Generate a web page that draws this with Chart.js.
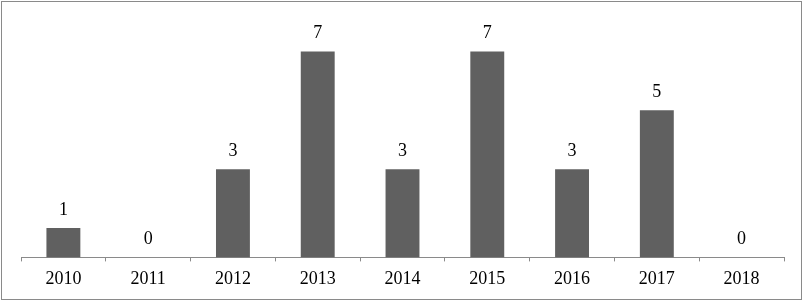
<!DOCTYPE html>
<html>
<head>
<meta charset="utf-8">
<script src="https://cdn.jsdelivr.net/npm/chart.js@4/dist/chart.umd.min.js"></script>
<style>
    body { margin: 0; background: #fff; }
    .frame { position: absolute; left: 1px; top: 1px; width: 799px; height: 297px; border: 1px solid #8a8a8a; }
    .wrap { position: absolute; left: 0; top: 0; width: 808px; height: 303px; }
</style>
</head>
<body>
<div class="frame"></div>
<div class="wrap"><canvas id="yearChart" width="808" height="303"></canvas></div>
<script>
const years = ['2010', '2011', '2012', '2013', '2014', '2015', '2016', '2017', '2018'];
const counts = [1, 0, 3, 7, 3, 7, 3, 5, 0];

// draws the value above every bar
const valueLabels = {
    id: 'valueLabels',
    afterDatasetsDraw(chart) {
        const ctx = chart.ctx;
        ctx.save();
        ctx.font = '18px "Liberation Serif"';
        ctx.fillStyle = '#000';
        ctx.textAlign = 'center';
        ctx.textBaseline = 'middle';
        chart.data.datasets.forEach((dataset, i) => {
            const meta = chart.getDatasetMeta(i);
            meta.data.forEach((bar, index) => {
                ctx.fillText(dataset.data[index], bar.x, bar.y - 18);
            });
        });
        ctx.restore();
    }
};

const ctx = document.getElementById('yearChart').getContext('2d');
new Chart(ctx, {
    type: 'bar',
    data: {
        labels: years,
        datasets: [{
            data: counts,
            backgroundColor: '#606060',
            borderWidth: 0,
            categoryPercentage: 1,
            barPercentage: 0.4
        }]
    },
    options: {
        responsive: false,
        animation: false,
        layout: {
            padding: { left: 21, right: 24, top: 22, bottom: 6 }
        },
        scales: {
            x: {
                grid: {
                    display: true,
                    drawOnChartArea: false,
                    drawTicks: true,
                    tickLength: 4,
                    color: '#8a8a8a'
                },
                border: { display: true, color: '#8a8a8a' },
                ticks: {
                    color: '#000',
                    padding: 7,
                    font: { family: 'Liberation Serif', size: 18 }
                }
            },
            y: {
                display: false,
                min: 0,
                max: 8
            }
        },
        plugins: {
            legend: { display: false },
            tooltip: { enabled: false }
        }
    },
    plugins: [valueLabels]
});
</script>
</body>
</html>
